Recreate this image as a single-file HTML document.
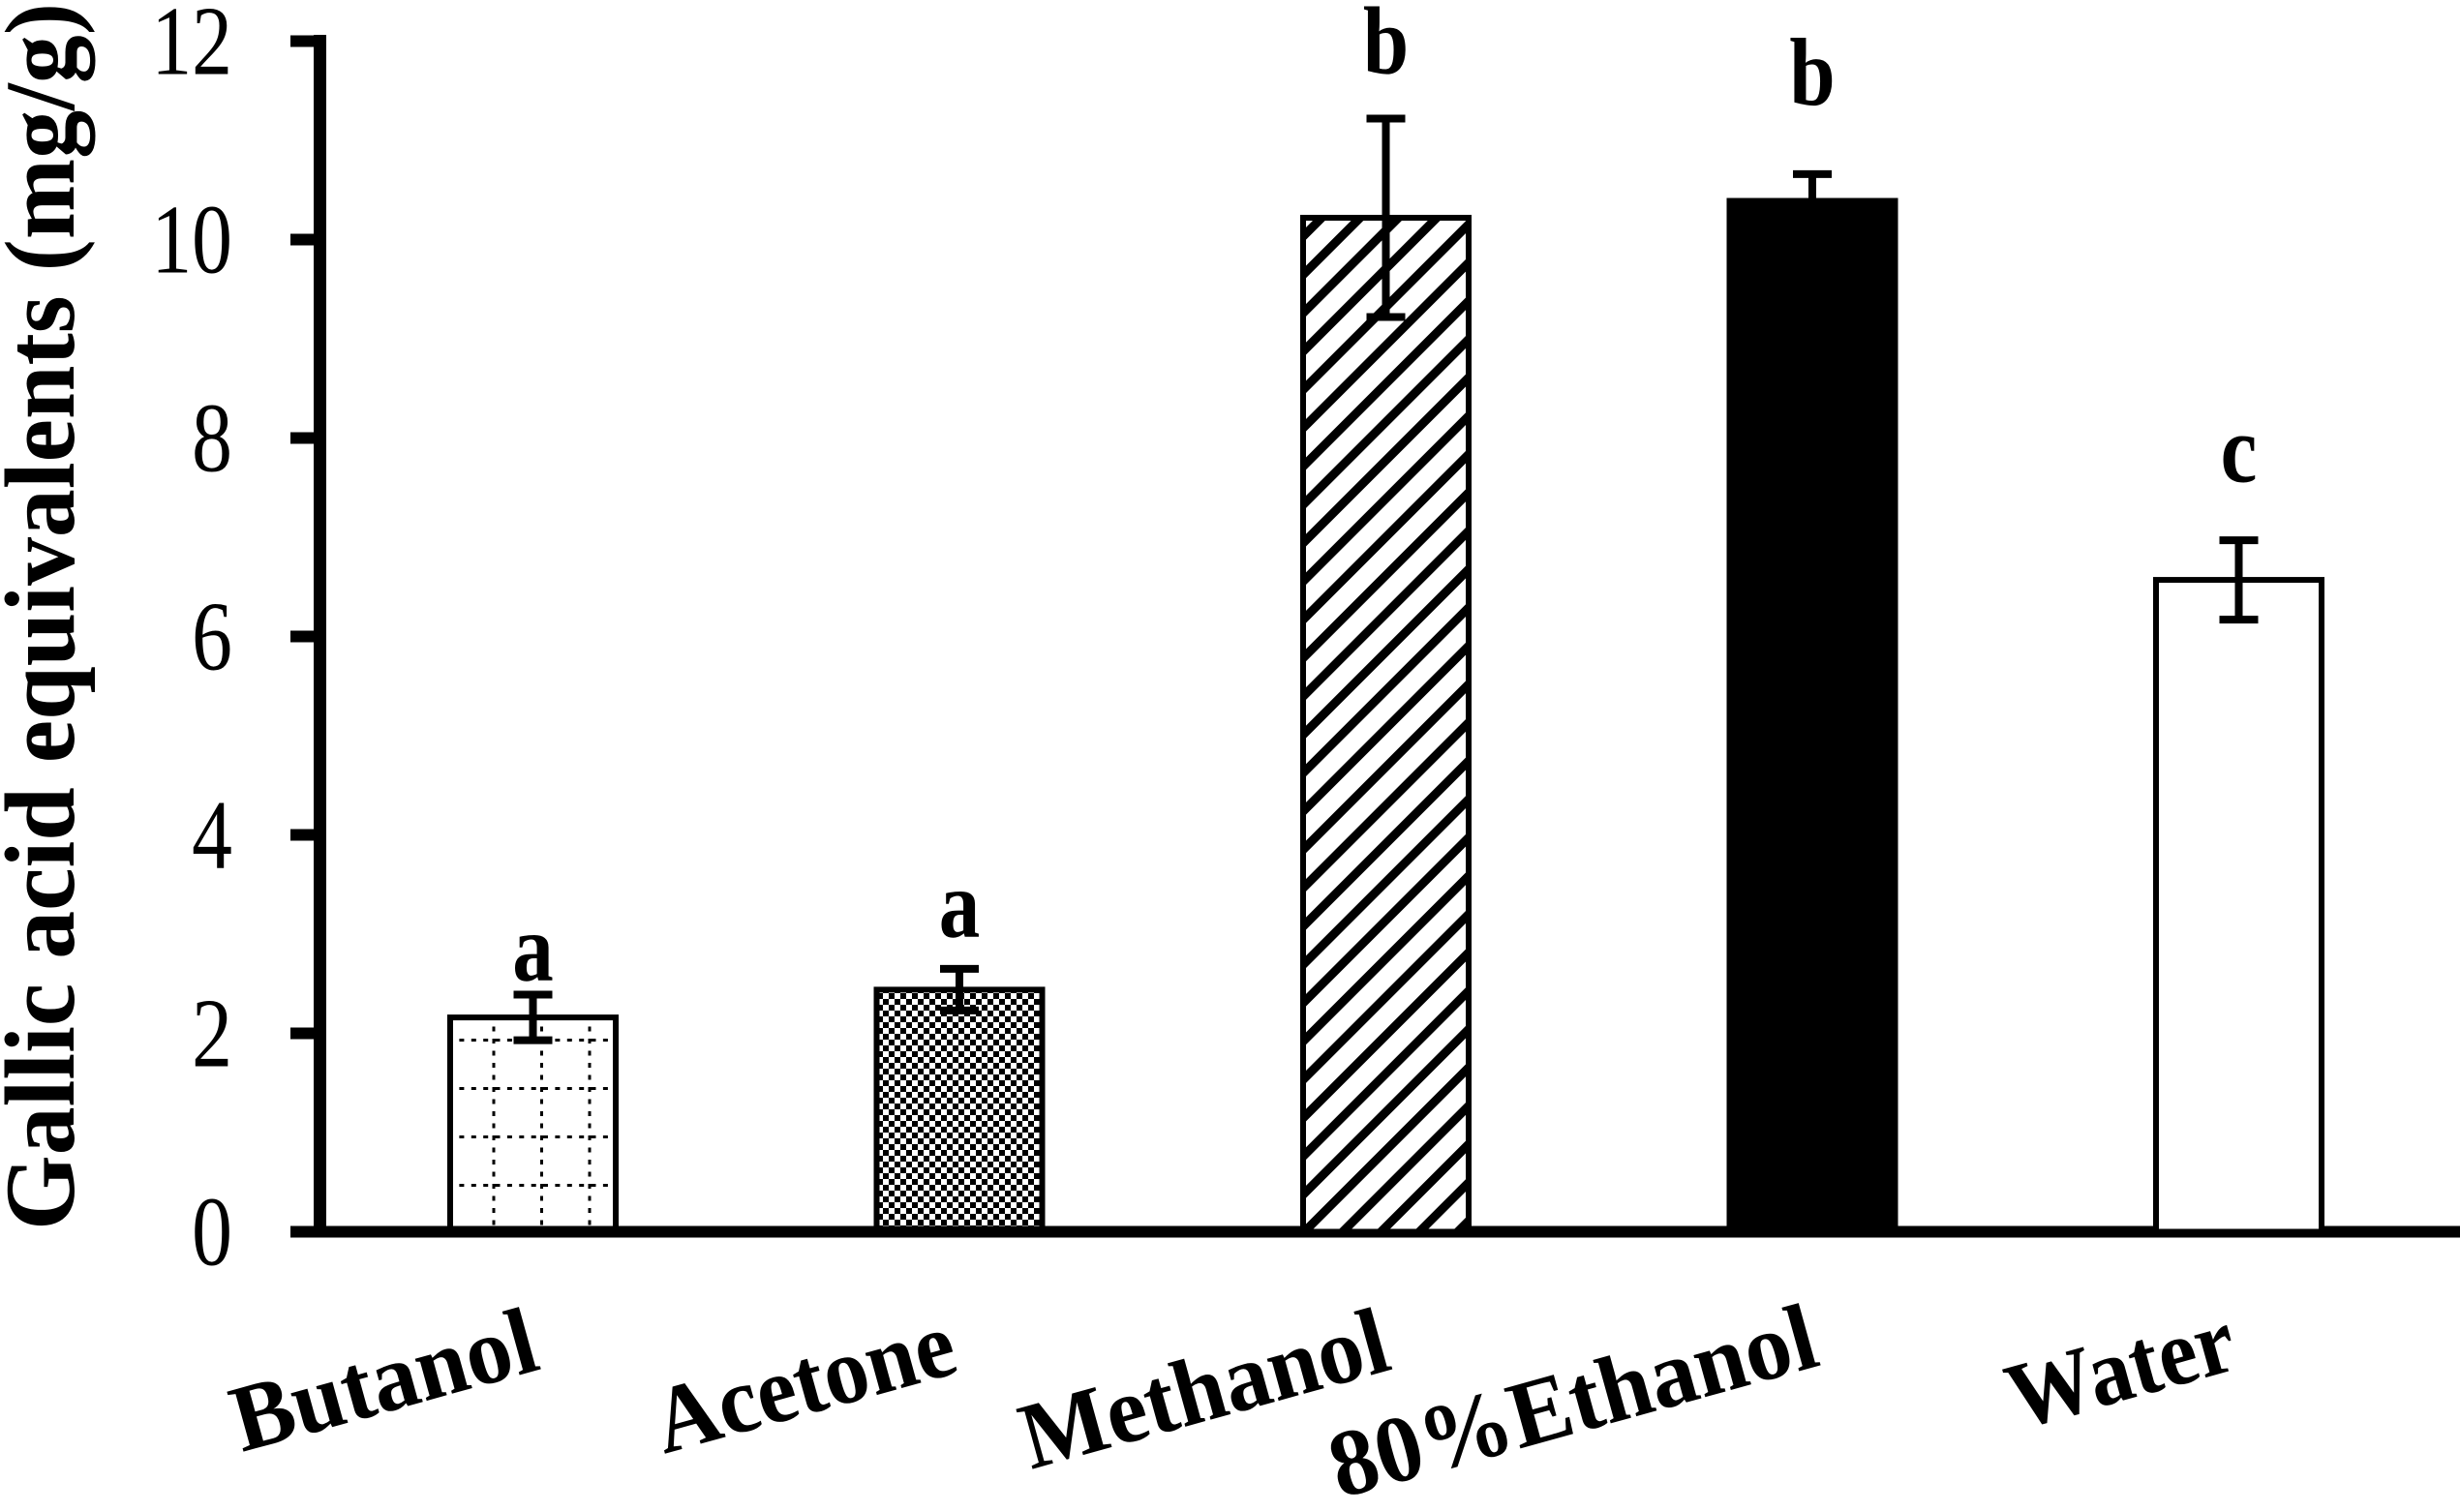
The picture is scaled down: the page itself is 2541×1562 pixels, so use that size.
<!DOCTYPE html>
<html>
<head>
<meta charset="utf-8">
<style>
html,body{margin:0;padding:0;background:#fff;}
svg{display:block;}
text{font-family:"Liberation Serif","Times New Roman",serif;fill:#000;}
</style>
</head>
<body>
<svg id="chart" width="2541" height="1562" viewBox="0 0 2541 1562" xmlns="http://www.w3.org/2000/svg">
  <defs>
    <pattern id="gridPat" patternUnits="userSpaceOnUse" x="462" y="1273" width="49.5" height="50">
      <line x1="0" y1="0.5" x2="49.5" y2="0.5" stroke="#000" stroke-width="5" stroke-dasharray="5 7.4"/>
      <line x1="49" y1="0" x2="49" y2="50" stroke="#000" stroke-width="5" stroke-dasharray="5 7.5"/>
    </pattern>
    <pattern id="checkPat" patternUnits="userSpaceOnUse" width="12" height="12">
      <rect x="0" y="0" width="6" height="6" fill="#000"/>
      <rect x="6" y="6" width="6" height="6" fill="#000"/>
    </pattern>
    <pattern id="hatchPat" patternUnits="userSpaceOnUse" width="28" height="28" patternTransform="rotate(-45)">
      <rect x="0" y="0" width="28" height="28" fill="#fff"/>
      <rect x="0" y="0" width="28" height="9" fill="#000"/>
    </pattern>
  </defs>
  <g id="axes-layer"></g>
  <g id="bars-layer"></g>
  <g id="labels-layer"></g>
</svg>
<script>
const categories = ["Butanol", "Acetone", "Methanol", "80%Ethanol", "Water"];
const values = [2.16, 2.44, 10.22, 10.39, 6.57];
const errors = [0.23, 0.21, 1.0, 0.27, 0.40];
const sigLetters = ["a", "a", "b", "b", "c"];
const sigLetterPos = [2.53, 2.97, 11.68, 11.36, 7.56];
const yTicks = [0, 2, 4, 6, 8, 10, 12];
const yTickLabels = ["0", "2", "4", "6", "8", "10", "12"];
const fills = ["url(#gridPat)", "url(#checkPat)", "url(#hatchPat)", "#000", "#fff"];

const NS = "http://www.w3.org/2000/svg";
const Y0 = 1272.5, PX_PER_UNIT = 102.5;
function yScale(v){ return Y0 - v * PX_PER_UNIT; }
const X_FIRST = 550.5, X_STEP = 440.5;
function xScale(i){ return X_FIRST + i * X_STEP; }
const BAR_W = 171;

function mk(tag, attrs, parent){
  const e = document.createElementNS(NS, tag);
  for (const k in attrs) e.setAttribute(k, attrs[k]);
  parent.appendChild(e);
  return e;
}
const axes = document.getElementById("axes-layer");
const bars = document.getElementById("bars-layer");
const labels = document.getElementById("labels-layer");

categories.forEach((c, i) => {
  const cx = xScale(i);
  const top = yScale(values[i]);
  const r = mk("rect", {x: cx - BAR_W/2, y: top, width: BAR_W, height: Y0 - top, fill: fills[i], stroke: "#000", "stroke-width": 6}, bars);
  
  
  const eg = mk("g", {}, bars);
  
  
  const yt = yScale(values[i] + errors[i]);
  const yb = yScale(values[i] - errors[i]);
  mk("line", {x1: cx, x2: cx, y1: yt, y2: yb, stroke: "#000", "stroke-width": 8}, eg);
  mk("line", {x1: cx - 20, x2: cx + 20, y1: yt, y2: yt, stroke: "#000", "stroke-width": 8}, eg);
  mk("line", {x1: cx - 20, x2: cx + 20, y1: yb, y2: yb, stroke: "#000", "stroke-width": 8}, eg);
  const lt = mk("text", {transform: "translate(" + cx + "," + yScale(sigLetterPos[i]) + ") scale(0.85,1)", "text-anchor": "middle", "font-size": 100, "font-weight": "bold"}, labels);
  lt.textContent = sigLetters[i];
  
  
});

const yAxis = mk("line", {x1: 330.5, x2: 330.5, y1: 36, y2: 1278.5, stroke: "#000", "stroke-width": 13}, axes);


const xAxis = mk("line", {x1: 300, x2: 2541, y1: Y0, y2: Y0, stroke: "#000", "stroke-width": 12}, axes);


yTicks.forEach((t, i) => {
  const y = yScale(t);
  const tk = mk("line", {x1: 300, x2: 331, y1: y, y2: y, stroke: "#000", "stroke-width": 12}, axes);
  
  
  const tl = mk("text", {transform: "translate(240," + (y + 34) + ") scale(0.82,1)", "text-anchor": "end", "font-size": 102}, axes);
  tl.textContent = yTickLabels[i];
  
  
});

const yt = mk("text", {transform: "translate(76,637) rotate(-90)", "text-anchor": "middle", "font-size": 103, "font-weight": "bold", textLength: 1268, lengthAdjust: "spacingAndGlyphs"}, axes);
yt.textContent = "Gallic acid equivalents (mg/g)";



const xLabelAnchor = [[250,1500,322],[686,1502,318],[1065,1518,389],[1384,1548,517],[2084,1477,239]];
categories.forEach((c, i) => {
  const a = xLabelAnchor[i];
  const t = mk("text", {transform: "translate(" + a[0] + "," + a[1] + ") rotate(-15.5)", "font-size": 98, "font-weight": "bold", textLength: a[2], lengthAdjust: "spacingAndGlyphs"}, labels);
  t.textContent = c;
  
  
});
</script>
</body>
</html>
